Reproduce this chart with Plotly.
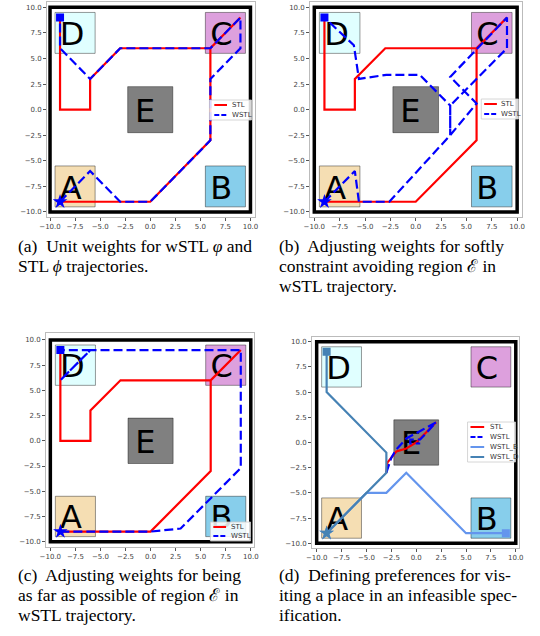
import plotly.graph_objects as go

W, H = 540, 636

# ---------------------------------------------------------------- data
TICKS = [-10.0, -7.5, -5.0, -2.5, 0.0, 2.5, 5.0, 7.5, 10.0]
WORKSPACE = (-10, 10)

REGION_NAMES = ["A", "B", "C", "D", "E"]
REGION_X = [(-9.5, -5.5), (5.5, 9.5), (5.5, 9.5), (-9.5, -5.5), (-2.25, 2.25)]
REGION_Y = [(-9.5, -5.5), (-9.5, -5.5), (5.5, 9.5), (5.5, 9.5), (-2.25, 2.25)]
REGION_TEXT_AT = [(-9, -9), (6, -9), (6, 6), (-9, 6), (-1.5, -1.5)]

# (a) unit weights
A_STL_X = [-9, 0, 6, 6, 9, 6, -3, -6, -6, -9, -9]
A_STL_Y = [-9, -9, -3, 6, 9, 6, 6, 3, 0, 0, 9]
A_WSTL_X = [-9, -6, -3, 0, 6, 6, 9, 9, 6, -3, -6, -9, -9]
A_WSTL_Y = [-9, -6, -9, -9, -3, 3, 6, 9, 6, 6, 3, 6, 9]

# (b) soft avoidance of E
B_STL_X = [-9, 0, 6, 6, 9, 6, -3, -6, -6, -9, -9]
B_STL_Y = [-9, -9, -3, 6, 9, 6, 6, 3, 0, 0, 9]
B_WSTL_X = [-9, -6, -5.6, -2.6, 3.4, 6.0, 3.4, 9, 9, 3.4, 3.4, 3.4, 0.4, -2.9, -5.6, -6.1, -9]
B_WSTL_Y = [-9, -6, -9, -9, -2.5, 0.6, 3.2, 9, 6, 0.4, -2.5, 0.4, 3.4, 3.4, 3.0, 6.3, 9]

# (c) keep far from E
C_STL_X = [-9, 0, 6, 6, 9, 6, -3, -6, -6, -9, -9]
C_STL_Y = [-9, -9, -3, 6, 9, 6, 6, 3, 0, 0, 9]
C_WSTL_X = [-9, 0, 3, 9, 9, -6, -9, -6, -9]
C_WSTL_Y = [-9, -9, -8.7, -2.7, 9, 9, 6, 9, 9]

# (d) preferences in an infeasible specification
D_STL_X = [-3, -2.9, -2, -1, 0, 1, 2]
D_STL_Y = [-3, -2, -0.9, -0.6, 0, 1, 2]
D_WSTL_X = [-3, -2.5, -2, -1, 0.5, 2, 0.4, -0.6, -0.6, 0.4]
D_WSTL_Y = [-3, -1.5, -0.7, 0.4, 1.2, 2, 0.3, 0.3, -0.1, -0.1]
D_WSTL_B_X = [-9, -5, -3, -1, 5, 9]
D_WSTL_B_Y = [-9, -5, -5, -3, -9, -9]
D_WSTL_D_X = [-9, -3, -3, -9, -9]
D_WSTL_D_Y = [-9, -3, -1, 5, 9]

CAPTIONS = [
    ["(a)  Unit weights for wSTL <i>φ</i> and", "STL <i>ϕ</i> trajectories."],
    ["(b)  Adjusting weights for softly", "constraint avoiding region ℰ in", "wSTL trajectory."],
    ["(c)  Adjusting weights for being", "as far as possible of region ℰ in", "wSTL trajectory."],
    ["(d)  Defining preferences for vis-", "iting a place in an infeasible spec-", "ification."],
]

# ---------------------------------------------------------------- styles
REGION_FILL = ["wheat", "skyblue", "plum", "lightcyan", "gray"]
# glyph advance widths (em) of DejaVu Sans capitals, used to centre labels
GLYPH_ADV = {"A": 0.684, "B": 0.686, "C": 0.698, "D": 0.770, "E": 0.632}
LABEL_SIZE = 32

STYLE = {
    "STL": dict(color="red", dash="solid"),
    "WSTL": dict(color="blue", dash="9px,4px"),
    "WSTL_B": dict(color="cornflowerblue", dash="solid"),
    "WSTL_D": dict(color="steelblue", dash="solid"),
}

# panel frames in pixels (left, top, right, bottom) and axis ranges
PANELS = [
    dict(box=(40, 2, 253, 217), xr=(-10.29, 10.49), yr=(-10.49, 10.52),
         lines=[("STL", A_STL_X, A_STL_Y), ("WSTL", A_WSTL_X, A_WSTL_Y)],
         ends=["WSTL"],
         legend=dict(box=(206, 100, 249, 120), rows=[105, 115], sample=(211, 224), text=228),
         cap=(8, [251.7, 271.7])),
    dict(box=(309, 2, 526, 217), xr=(-10.41, 10.51), yr=(-10.49, 10.52),
         lines=[("STL", B_STL_X, B_STL_Y), ("WSTL", B_WSTL_X, B_WSTL_Y)],
         ends=["WSTL"],
         legend=dict(box=(484, 99, 522, 119), rows=[104, 114], sample=(487, 500), text=503),
         cap=(275, [251.7, 271.7, 291.7])),
    dict(box=(39, 333, 252, 547), xr=(-10.42, 10.36), yr=(-10.53, 10.69),
         lines=[("STL", C_STL_X, C_STL_Y), ("WSTL", C_WSTL_X, C_WSTL_Y)],
         ends=["WSTL"],
         legend=dict(box=(207, 522, 248, 541), rows=[527, 536], sample=(210, 223), text=227),
         cap=(8, [580.7, 600.7, 620.7])),
    dict(box=(311, 337, 523, 548), xr=(-10.46, 10.36), yr=(-10.47, 10.47),
         lines=[("STL", D_STL_X, D_STL_Y), ("WSTL", D_WSTL_X, D_WSTL_Y),
                ("WSTL_B", D_WSTL_B_X, D_WSTL_B_Y), ("WSTL_D", D_WSTL_D_X, D_WSTL_D_Y)],
         ends=["WSTL_B", "WSTL_D"],
         legend=dict(box=(470, 422, 519, 462), rows=[427, 437, 447, 457], sample=(473, 487), text=492),
         cap=(275, [580.7, 600.7, 620.7])),
]


def px_x(p):
    return p / W


def px_y(p):
    return 1 - p / H


fig = go.Figure()
shapes = []
annotations = []
layout_axes = {}

for i, pnl in enumerate(PANELS, start=1):
    xa = "x" if i == 1 else f"x{i}"
    ya = "y" if i == 1 else f"y{i}"
    l, t, r, b = pnl["box"]
    common = dict(
        tickmode="array", tickvals=TICKS, tickformat=".1f",
        tickfont=dict(family="DejaVu Sans", size=7, color="#444"),
        ticks="outside", ticklen=3, tickwidth=0.8, tickcolor="#555",
        showline=True, linecolor="#bbb", linewidth=1, mirror=True,
        showgrid=False, zeroline=False, fixedrange=True,
    )
    layout_axes["xaxis" if i == 1 else f"xaxis{i}"] = dict(
        domain=[px_x(l), px_x(r)], range=list(pnl["xr"]), anchor=ya, **common)
    layout_axes["yaxis" if i == 1 else f"yaxis{i}"] = dict(
        domain=[px_y(b), px_y(t)], range=list(pnl["yr"]), anchor=xa, **common)

    pxu_x = (r - l) / (pnl["xr"][1] - pnl["xr"][0])
    pxu_y = (b - t) / (pnl["yr"][1] - pnl["yr"][0])

    # regions of interest
    for name, (x0, x1), (y0, y1), fill in zip(REGION_NAMES, REGION_X, REGION_Y, REGION_FILL):
        shapes.append(dict(type="rect", xref=xa, yref=ya, x0=x0, x1=x1, y0=y0, y1=y1,
                           fillcolor=fill, line=dict(color="rgba(0,0,0,0.4)", width=1),
                           layer="below"))
    # workspace boundary
    shapes.append(dict(type="rect", xref=xa, yref=ya, x0=WORKSPACE[0], x1=WORKSPACE[1],
                       y0=WORKSPACE[0], y1=WORKSPACE[1], fillcolor="rgba(0,0,0,0)",
                       line=dict(color="black", width=3.5), layer="below"))

    # region letters (text placed like a baseline-anchored label)
    lx, ly = [], []
    for name, (tx, ty) in zip(REGION_NAMES, REGION_TEXT_AT):
        lx.append(tx + GLYPH_ADV[name] * LABEL_SIZE / 2 / pxu_x)
        ly.append(ty + 0.35 * LABEL_SIZE / pxu_y)
    fig.add_trace(go.Scatter(x=lx, y=ly, mode="text", text=REGION_NAMES,
                             textposition="middle center",
                             textfont=dict(family="DejaVu Sans", size=LABEL_SIZE, color="black"),
                             xaxis=xa, yaxis=ya, hoverinfo="skip", showlegend=False))

    # trajectories
    for name, xs, ys in pnl["lines"]:
        st = STYLE[name]
        fig.add_trace(go.Scatter(x=xs, y=ys, mode="lines", name=name,
                                 line=dict(color=st["color"], dash=st["dash"], width=2.2),
                                 xaxis=xa, yaxis=ya, showlegend=False))
    # start (star) and goal (square) markers
    for name, xs, ys in pnl["lines"]:
        if name not in pnl["ends"]:
            continue
        col = STYLE[name]["color"]
        fig.add_trace(go.Scatter(x=[xs[0]], y=[ys[0]], mode="markers",
                                 marker=dict(symbol="star", size=11, color=col),
                                 xaxis=xa, yaxis=ya, showlegend=False))
        fig.add_trace(go.Scatter(x=[xs[-1]], y=[ys[-1]], mode="markers",
                                 marker=dict(symbol="square", size=8, color=col),
                                 xaxis=xa, yaxis=ya, showlegend=False))

    # compact legend box
    lg = pnl["legend"]
    bl, bt, br, bb = lg["box"]
    shapes.append(dict(type="rect", xref="paper", yref="paper",
                       x0=px_x(bl), x1=px_x(br), y0=px_y(bb), y1=px_y(bt),
                       fillcolor="rgba(255,255,255,0.85)",
                       line=dict(color="#ccc", width=0.8), layer="above"))
    for (name, _, _), ry in zip(pnl["lines"], lg["rows"]):
        st = STYLE[name]
        shapes.append(dict(type="line", xref="paper", yref="paper",
                           x0=px_x(lg["sample"][0]), x1=px_x(lg["sample"][1]),
                           y0=px_y(ry), y1=px_y(ry),
                           line=dict(color=st["color"], width=2,
                                     dash="5px,2px" if st["dash"] != "solid" else "solid"),
                           layer="above"))
        annotations.append(dict(xref="paper", yref="paper", x=px_x(lg["text"]), y=px_y(ry),
                                xanchor="left", yanchor="middle", showarrow=False,
                                text=name, borderpad=0,
                                font=dict(family="DejaVu Sans", size=7, color="#333")))

    # caption
    cx, baselines = pnl["cap"]
    for line, base in zip(CAPTIONS[i - 1], baselines):
        annotations.append(dict(xref="paper", yref="paper", x=px_x(cx), y=px_y(base - 6),
                                xanchor="left", yanchor="middle", showarrow=False,
                                text=line,
                                font=dict(family="Liberation Serif", size=17.5, color="black")))

fig.update_layout(
    width=W, height=H, margin=dict(l=0, r=0, t=0, b=0),
    paper_bgcolor="white", plot_bgcolor="white",
    showlegend=False, shapes=shapes, annotations=annotations,
    **layout_axes,
)

fig.write_html("out.html")
